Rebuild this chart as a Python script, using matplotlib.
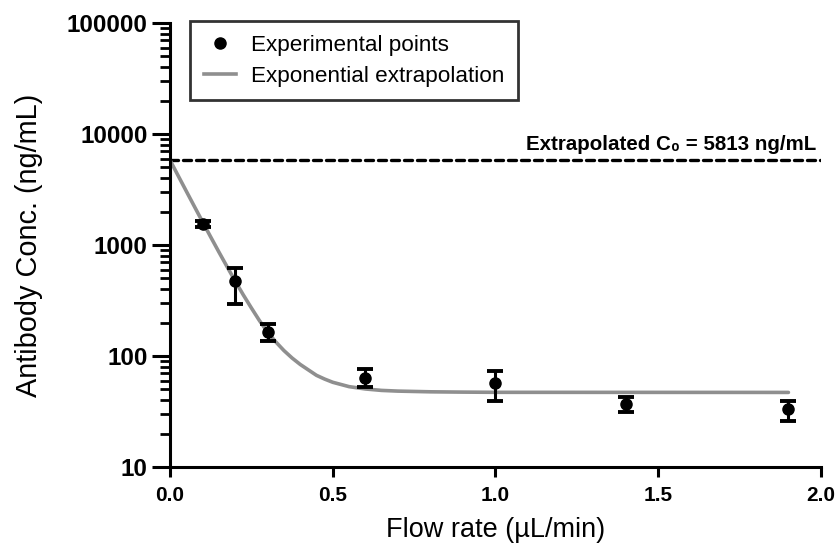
import numpy as np
import matplotlib
matplotlib.use("Agg")
import matplotlib.pyplot as plt
from matplotlib.lines import Line2D
from matplotlib.ticker import LogLocator, NullFormatter, FixedLocator

plt.rcParams["font.family"] = ["Liberation Sans", "DejaVu Sans"]

# experimental points (flow rate, conc, lower / upper error bar ends)
flow = [0.1, 0.2, 0.3, 0.6, 1.0, 1.4, 1.9]
conc = [1550, 470, 165, 64, 57, 37, 33]
err_lo = [1450, 295, 136, 53, 39, 31, 26]
err_hi = [1660, 620, 194, 76, 73, 43, 39]

# exponential extrapolation curve
curve_x = [0.0, 0.025, 0.05, 0.075, 0.1, 0.125, 0.15, 0.175, 0.2, 0.225,
           0.25, 0.275, 0.3, 0.325, 0.35, 0.375, 0.4, 0.425, 0.45, 0.475,
           0.5, 0.55, 0.6, 0.65, 0.7, 0.8, 0.9, 1.0, 1.9]
curve_y = [5813, 4213, 3057, 2222, 1618, 1182, 867, 640, 475, 356,
           271, 208, 164, 134, 112, 96, 84, 75, 67, 62,
           58, 53, 50.5, 49, 48.3, 47.6, 47.3, 47.1, 47.0]

c0 = 5813
xticks = [0.0, 0.5, 1.0, 1.5, 2.0]
yticks = [10, 100, 1000, 10000, 100000]

fig = plt.figure(figsize=(8.35, 5.44), dpi=100)
ax = fig.add_axes([0.2036, 0.1415, 0.7796, 0.8162])

conc_a = np.array(conc)
yerr = [conc_a - np.array(err_lo), np.array(err_hi) - conc_a]

ax.plot(curve_x, curve_y, color="#8f8f8f", lw=2.6, zorder=2,
        solid_capstyle="round", solid_joinstyle="round")
ax.errorbar(flow, conc, yerr=yerr, fmt="o", color="black", ms=8,
            elinewidth=2.2, capsize=5.5, capthick=2.8, zorder=3)

ax.plot([0, 2.0], [c0, c0], color="black", lw=2.4, zorder=1,
        dashes=(2.4, 1.5), dash_capstyle="round")
ax.text(1.985, c0 * 1.13, "Extrapolated C\u2080 = 5813 ng/mL", ha="right",
        va="bottom", fontsize=14.8, fontweight="bold")

ax.set_yscale("log")
ax.set_xlim(0, 2.0)
ax.set_ylim(10, 100000)
ax.xaxis.set_major_locator(FixedLocator(xticks))
ax.set_xticklabels([f"{v:.1f}" for v in xticks])
ax.yaxis.set_major_locator(FixedLocator(yticks))
ax.set_yticklabels([str(v) for v in yticks])
ax.yaxis.set_minor_locator(LogLocator(base=10, subs=np.arange(2, 10)))
ax.yaxis.set_minor_formatter(NullFormatter())

for s in ["top", "right"]:
    ax.spines[s].set_visible(False)
for s in ["left", "bottom"]:
    ax.spines[s].set_linewidth(2.2)

ax.tick_params(axis="y", which="major", length=13, width=2.2, labelsize=17.5, pad=3)
ax.tick_params(axis="y", which="minor", length=7, width=2.0)
ax.tick_params(axis="x", which="major", length=7.5, width=2.2, labelsize=15, pad=6)
for t in ax.get_xticklabels() + ax.get_yticklabels():
    t.set_fontweight("bold")

ax.set_xlabel("Flow rate (\u00b5L/min)", fontsize=19.5, labelpad=9)
ax.set_ylabel("Antibody Conc. (ng/mL)", fontsize=20.8, labelpad=17)

handles = [Line2D([], [], ls="none", marker="o", ms=8, color="black"),
           Line2D([], [], color="#8f8f8f", lw=2.6)]
leg = ax.legend(handles=handles, labels=["Experimental points", "Exponential extrapolation"],
                loc="upper left", bbox_to_anchor=(0.031, 1.0045), fontsize=16.2,
                frameon=True, fancybox=False, edgecolor="black",
                handlelength=1.45, handletextpad=0.65, borderpad=0.6,
                labelspacing=0.45, borderaxespad=0)
leg.get_frame().set_linewidth(2.0)

fig.savefig("out.png", dpi=100)
